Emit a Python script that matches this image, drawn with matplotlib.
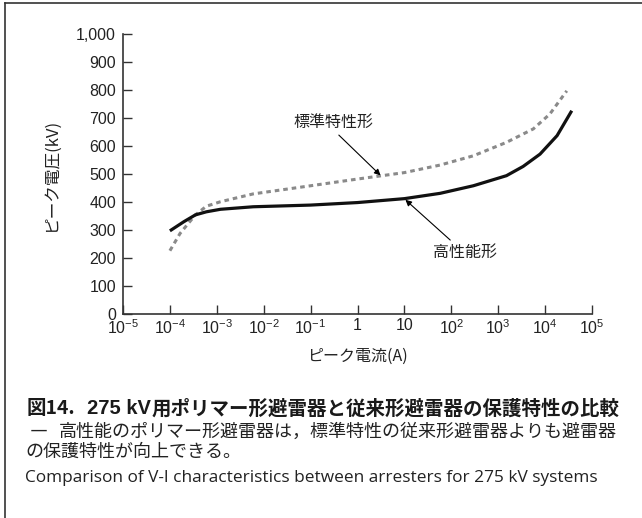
import matplotlib
matplotlib.use("Agg")
import matplotlib.pyplot as plt
from matplotlib.lines import Line2D

plt.rcParams['font.family'] = ['Liberation Sans', 'Noto Sans CJK JP', 'DejaVu Sans']
plt.rcParams['mathtext.fontset'] = 'custom'
plt.rcParams['mathtext.rm'] = 'Liberation Sans'
plt.rcParams['mathtext.it'] = 'Liberation Sans'

# High-performance (polymer) arrester
hp_current = [1e-4, 2e-4, 3.5e-4, 6e-4, 1.2e-3, 6e-3, 1e-1, 1, 10, 58, 295, 1.5e3, 3.4e3, 7.8e3, 1.8e4, 3.7e4]
hp_voltage = [297, 330, 354, 365, 374, 383, 389, 398, 412, 431, 458, 494, 527, 571, 637, 726]

# Standard characteristic (conventional) arrester
std_current = [1e-4, 1.65e-4, 3.5e-4, 6e-4, 1.2e-3, 6e-3, 1e-1, 1, 10, 58, 295, 1.5e3, 5.6e3, 1.26e4, 2.9e4]
std_voltage = [226, 288, 354, 385, 401, 429, 458, 482, 505, 532, 565, 613, 661, 714, 797]

x_ticks = [1e-5, 1e-4, 1e-3, 1e-2, 1e-1, 1, 10, 1e2, 1e3, 1e4, 1e5]
x_labels = [r'$10^{-5}$', r'$10^{-4}$', r'$10^{-3}$', r'$10^{-2}$', r'$10^{-1}$', '1', '10',
            r'$10^{2}$', r'$10^{3}$', r'$10^{4}$', r'$10^{5}$']
y_ticks = [0, 100, 200, 300, 400, 500, 600, 700, 800, 900, 1000]
y_labels = ['0', '100', '200', '300', '400', '500', '600', '700', '800', '900', '1,000']

W, H = 642, 518
fig = plt.figure(figsize=(W / 100, H / 100), dpi=100)
ax = fig.add_axes([123 / W, 1 - 314 / H, (592 - 123) / W, (314 - 34) / H])

ax.plot(std_current, std_voltage, color='#8a8a8a', lw=2.2, linestyle=(0, (1.5, 1.3)))
ax.plot(hp_current, hp_voltage, color='#111111', lw=2.3, solid_capstyle='butt')

ax.set_xscale('log')
ax.set_xlim(1e-5, 1e5)
ax.set_ylim(0, 1000)
ax.set_xticks(x_ticks)
ax.set_xticklabels(x_labels)
ax.minorticks_off()
ax.set_yticks(y_ticks)
ax.set_yticklabels(y_labels)
ax.tick_params(direction='in', length=6.5, width=1, labelsize=11.5, color='#333333', labelcolor='#222222')
ax.tick_params(axis='x', pad=3)
ax.tick_params(axis='y', pad=5)
for s in ['top', 'right']:
    ax.spines[s].set_visible(False)
for s in ['left', 'bottom']:
    ax.spines[s].set_linewidth(1.2)
    ax.spines[s].set_color('#333333')

ax.set_ylabel('ピーク電圧(kV)', fontsize=12, family=['Noto Sans CJK JP'], labelpad=12, color='#222222')
ax.set_xlabel('ピーク電流(A)', fontsize=11.5, family=['Noto Sans CJK JP'], labelpad=8, color='#222222')

arrow = dict(arrowstyle='-|>', lw=0.8, color='black', mutation_scale=9, shrinkA=0, shrinkB=0)
ax.text(0.31, 683, '標準特性形', fontsize=11.5, family=['Noto Sans CJK JP'], ha='center', va='center',
        color='#222222')
ax.annotate('', xy=(3.1, 495), xytext=(0.4, 639), arrowprops=arrow)
ax.text(195, 219, '高性能形', fontsize=11.5, family=['Noto Sans CJK JP'], ha='center', va='center',
        color='#222222')
ax.annotate('', xy=(10.5, 408), xytext=(95, 264), arrowprops=arrow)

# frame lines
fig.add_artist(Line2D([5 / W, 5 / W], [0, 1 - 3 / H], transform=fig.transFigure, color='#333333', lw=1.2))
fig.add_artist(Line2D([5 / W, 1], [1 - 3 / H, 1 - 3 / H], transform=fig.transFigure, color='#333333', lw=1.2))

# caption
cjk = ['Noto Sans CJK JP']
fig.text(27 / W, 1 - 409 / H, '図14.', fontsize=14, fontweight='bold', family=cjk, va='center', ha='left',
         color='#1a1a1a')
fig.text(87 / W, 1 - 409 / H, '275 kV', fontsize=14.5, fontweight='bold', family=['Liberation Sans'],
         va='center', ha='left', color='#1a1a1a')
fig.text(152 / W, 1 - 409 / H, '用ポリマー形避雷器と従来形避雷器の保護特性の比較',
         fontsize=14, fontweight='bold', family=cjk, va='center', ha='left', color='#1a1a1a')
fig.text(30 / W, 1 - 432 / H, '―', fontsize=13, family=cjk, va='center', ha='left', color='#222222')
fig.text(59 / W, 1 - 432 / H, '高性能のポリマー形避雷器は，標準特性の従来形避雷器よりも避雷器',
         fontsize=13, family=cjk, va='center', ha='left', color='#222222')
fig.text(25 / W, 1 - 452 / H, 'の保護特性が向上できる。',
         fontsize=13, family=cjk, va='center', ha='left', color='#222222')
fig.text(25 / W, 1 - 478 / H, 'Comparison of V-I characteristics between arresters for 275 kV systems',
         fontsize=12.4, family=['Open Sans', 'Liberation Sans'], va='center', ha='left',
         color='#222222')

fig.savefig('out.png', dpi=100)
